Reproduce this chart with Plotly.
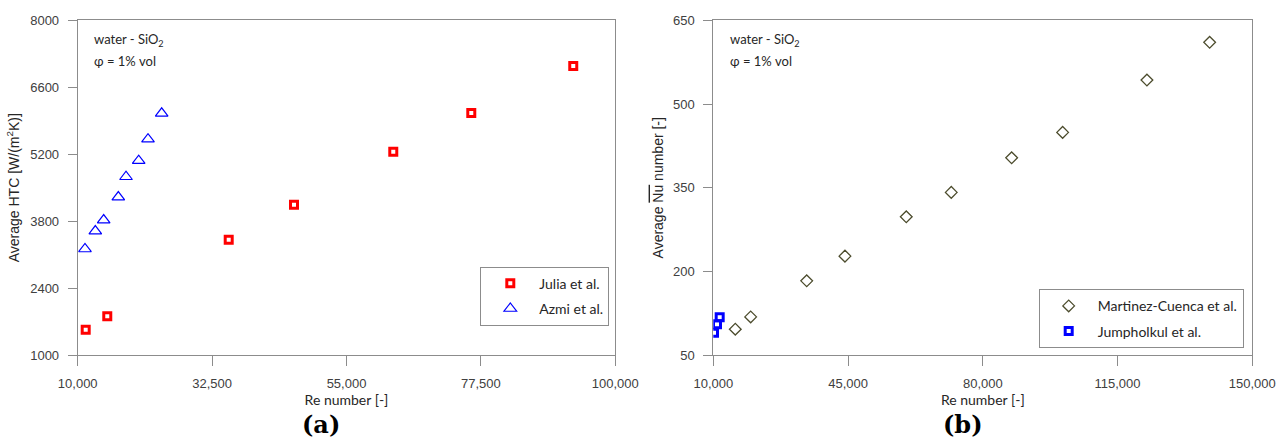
import plotly.graph_objects as go

# ---- Data (a): Average HTC vs Re ----
julia_re = [11340, 14950, 35280, 46210, 62830, 75890, 92960]
julia_htc = [1530, 1815, 3415, 4145, 5255, 6065, 7045]
azmi_re = [11220, 12950, 14350, 16800, 18090, 20210, 21770, 24060]
azmi_htc = [3220, 3595, 3825, 4305, 4730, 5065, 5515, 6055]

# ---- Data (b): Average Nu vs Re ----
martinez_re = [15710, 19710, 34260, 44200, 60120, 71810, 87490, 100740, 122630, 138920]
martinez_nu = [96.6, 118.6, 183.2, 227.5, 297.9, 341.7, 403.7, 449.2, 543.0, 610.6]
jump_re = [10180, 10960, 11660]
jump_nu = [90.0, 105.6, 118.1]

xa_ticks = [10000, 32500, 55000, 77500, 100000]
xa_labels = ["10,000", "32,500", "55,000", "77,500", "100,000"]
ya_ticks = [1000, 2400, 3800, 5200, 6600, 8000]
xb_ticks = [10000, 45000, 80000, 115000, 150000]
xb_labels = ["10,000", "45,000", "80,000", "115,000", "150,000"]
yb_ticks = [50, 200, 350, 500, 650]

W, H = 1277, 439
def px_x(p):
    return p / W
def px_y(p):
    return 1 - p / H

AX = "#8c8c8c"
TICKFONT = dict(family="Liberation Sans, Arial", size=13, color="#404040")
CAL = "Lato, Carlito, Calibri, sans-serif"
TXT = "#262626"

fig = go.Figure()

fig.add_trace(go.Scatter(x=julia_re, y=julia_htc, mode="markers", name="Julia et al.",
    marker=dict(symbol="square-open", size=7, color="#ff0000", line=dict(width=3, color="#ff0000")),
    xaxis="x", yaxis="y", legend="legend", legendgroup="a1"))
fig.add_trace(go.Scatter(x=azmi_re, y=azmi_htc, mode="markers", name="Azmi et al.",
    marker=dict(symbol="triangle-up-open", size=11, color="#0000ff", line=dict(width=1.2, color="#0000ff")),
    xaxis="x", yaxis="y", legend="legend", legendgroup="a2"))
fig.add_trace(go.Scatter(x=martinez_re, y=martinez_nu, mode="markers", name="Martinez-Cuenca et al.",
    marker=dict(symbol="diamond-open", size=9, color="#4d4d2e", line=dict(width=1.3, color="#4d4d2e")),
    xaxis="x2", yaxis="y2", legend="legend2", legendgroup="b1"))
fig.add_trace(go.Scatter(x=jump_re, y=jump_nu, mode="markers", name="Jumpholkul et al.",
    marker=dict(symbol="square-open", size=7, color="#0000ff", line=dict(width=3, color="#0000ff")),
    xaxis="x2", yaxis="y2", legend="legend2", legendgroup="b2"))

ydom = [px_y(355.2), px_y(20.3)]

common_axis = dict(showline=True, linecolor=AX, linewidth=1, mirror=True, ticks="outside",
                   tickcolor=AX, tickwidth=1, showgrid=False, zeroline=False, tickfont=TICKFONT,
                   automargin=False)

fig.update_layout(
    template="none",
    width=W, height=H, margin=dict(l=0, r=0, t=0, b=0, autoexpand=False),
    paper_bgcolor="white", plot_bgcolor="white",
    xaxis=dict(domain=[px_x(77.7), px_x(615.3)], range=[10000, 100000], tickvals=xa_ticks,
               ticktext=xa_labels, ticklen=10, ticklabelstandoff=6, anchor="y",
               title=dict(text="Re number [-]", font=dict(family=CAL, size=14, color=TXT), standoff=4),
               **common_axis),
    yaxis=dict(domain=ydom, range=[1000, 8000], tickvals=ya_ticks, ticklen=9, ticklabelstandoff=6,
               anchor="x",
               title=dict(text="Average HTC [W/(m<sup>2</sup>K)]", font=dict(family="Liberation Sans, Arial", size=14, color=TXT), standoff=7),
               **common_axis),
    xaxis2=dict(domain=[px_x(713.3), px_x(1252.3)], range=[10000, 150000], tickvals=xb_ticks,
                ticktext=xb_labels, ticklen=10, ticklabelstandoff=6, anchor="y2",
                title=dict(text="Re number [-]", font=dict(family=CAL, size=14, color=TXT), standoff=4),
                **common_axis),
    yaxis2=dict(domain=ydom, range=[50, 650], tickvals=yb_ticks, ticklen=9, ticklabelstandoff=6,
                anchor="x2",
                title=dict(text="Average <span style=\"text-decoration:overline\">Nu</span> number [-]",
                           font=dict(family="Liberation Sans, Arial", size=14, color=TXT), standoff=6),
                **common_axis),
    legend=dict(x=px_x(609.3), y=px_y(325.7), xanchor="right", yanchor="bottom",
                bgcolor="white", bordercolor=AX, borderwidth=1,
                font=dict(family=CAL, size=14, color=TXT),
                traceorder="grouped", tracegroupgap=4, itemwidth=48),
    legend2=dict(x=px_x(1243.7), y=px_y(348.3), xanchor="right", yanchor="bottom",
                 bgcolor="white", bordercolor=AX, borderwidth=1,
                 font=dict(family=CAL, size=14, color=TXT),
                 traceorder="grouped", tracegroupgap=4, itemwidth=48),
    showlegend=True,
)

ann_font = dict(family=CAL, size=13, color=TXT)
serif = dict(family="DejaVu Serif, Liberation Serif, serif", size=24, color="black")
annotations = [
    dict(text="water - SiO<sub>2</sub>", x=px_x(92), y=px_y(40), xref="paper", yref="paper",
         xanchor="left", yanchor="middle", showarrow=False, font=ann_font),
    dict(text="φ = 1% vol", x=px_x(92), y=px_y(61), xref="paper", yref="paper",
         xanchor="left", yanchor="middle", showarrow=False, font=ann_font),
    dict(text="water - SiO<sub>2</sub>", x=px_x(728), y=px_y(40), xref="paper", yref="paper",
         xanchor="left", yanchor="middle", showarrow=False, font=ann_font),
    dict(text="φ = 1% vol", x=px_x(728), y=px_y(61), xref="paper", yref="paper",
         xanchor="left", yanchor="middle", showarrow=False, font=ann_font),
    dict(text="<b>(a)</b>", x=px_x(321), y=px_y(424), xref="paper", yref="paper",
         xanchor="center", yanchor="middle", showarrow=False, font=serif),
    dict(text="<b>(b)</b>", x=px_x(963), y=px_y(424), xref="paper", yref="paper",
         xanchor="center", yanchor="middle", showarrow=False, font=serif),
]
fig.update_layout(annotations=annotations)

fig.write_html("out.html", config={"displayModeBar": False},
               post_script="document.body.style.margin='0';document.body.style.overflow='hidden';")
